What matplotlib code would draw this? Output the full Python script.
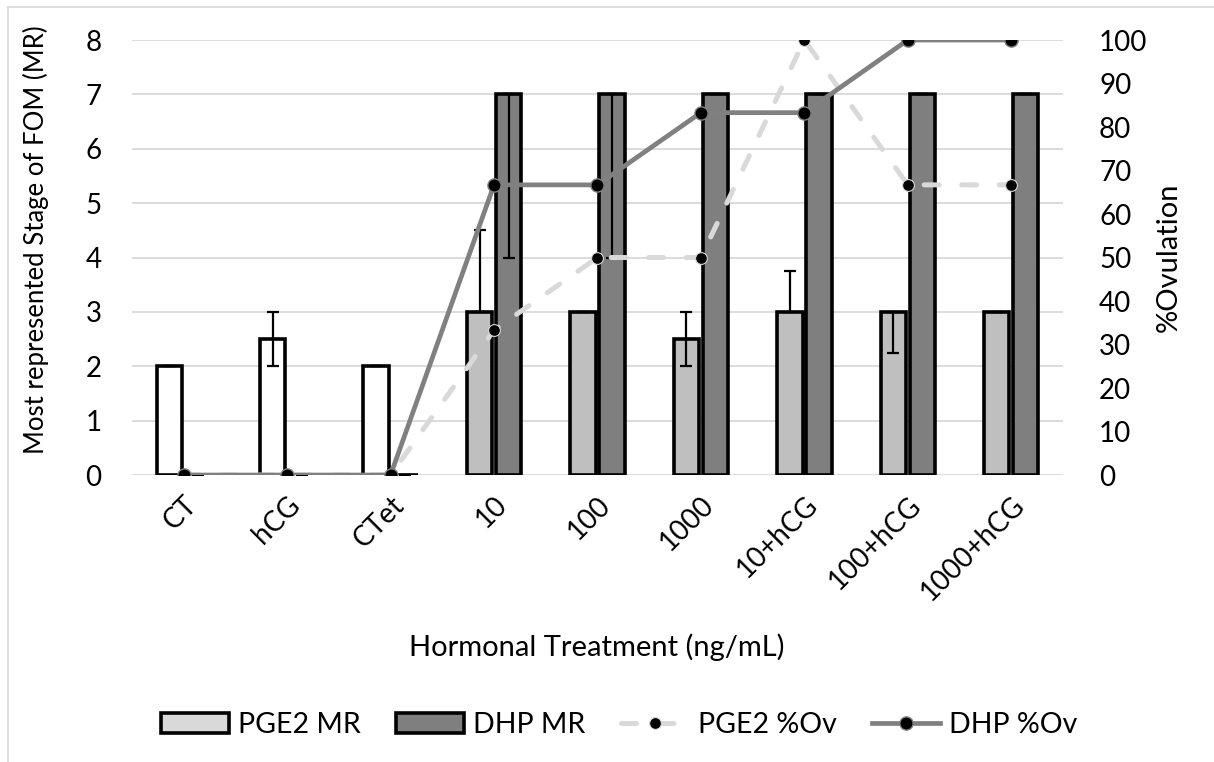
import matplotlib
matplotlib.use("Agg")
import matplotlib.pyplot as plt
import numpy as np
from matplotlib.lines import Line2D

plt.rcParams["font.family"] = ["Lato", "DejaVu Sans"]

categories = ["CT", "hCG", "CTet", "10", "100", "1000", "10+hCG", "100+hCG", "1000+hCG"]
pge2_mr = [2, 2.5, 2, 3, 3, 2.5, 3, 3, 3]
pge2_err_low = [0, 0.5, 0, 0, 0, 0.5, 0, 0.75, 0]
pge2_err_high = [0, 0.5, 0, 1.5, 0, 0.5, 0.75, 0, 0]
dhp_mr = [0, 0, 0, 7, 7, 7, 7, 7, 7]
dhp_err_low = [0, 0, 0, 3, 3, 0, 0, 0, 0]
dhp_err_high = [0, 0, 0, 0, 0, 0, 0, 0, 0]
pge2_ov = [0, 0, 0, 33.3, 50, 50, 100, 66.7, 66.7]
dhp_ov = [0, 0, 0, 66.7, 66.7, 83.3, 83.3, 100, 100]

x = np.arange(len(categories))
w = 0.245
off = 0.14
pge2_colors = ["white"] * 3 + ["#bfbfbf"] * 6
err_style = dict(ecolor="black", elinewidth=1.6, capsize=4.5, capthick=1.6)
pge2_line = dict(color="#d9d9d9", linewidth=3.6, linestyle=(0, (3, 4.5)), dash_capstyle="round",
                 marker="o", markersize=8.5, markerfacecolor="black", markeredgecolor="#d9d9d9",
                 markeredgewidth=0.8)
dhp_line = dict(color="#808080", linewidth=3.4, marker="o", markersize=9.5,
                markerfacecolor="black", markeredgecolor="#808080", markeredgewidth=1)

fig = plt.figure(figsize=(12.14, 7.62), dpi=100)
ax = fig.add_axes([0.1087, 0.3766, 0.7669, 0.5709])
ax2 = ax.twinx()

ax.set_axisbelow(True)
ax.yaxis.grid(True, color="#d9d9d9", linewidth=1.3)
ax.bar(x - off, pge2_mr, w, color=pge2_colors, edgecolor="black", linewidth=2.6,
       yerr=[pge2_err_low, pge2_err_high], error_kw=err_style)
ax.bar(x + off, dhp_mr, w, color="#7f7f7f", edgecolor="black", linewidth=2.6,
       yerr=[dhp_err_low, dhp_err_high], error_kw=err_style)

ax2.plot(x, pge2_ov, **pge2_line)
ax2.plot(x, dhp_ov, **dhp_line)

ax.set_xlim(-0.5, len(categories) - 0.5)
ax.set_ylim(0, 8)
ax2.set_ylim(0, 100)
ax.set_yticks(range(0, 9))
ax2.set_yticks(range(0, 101, 10))
ax.set_xticks(x)
ax.set_xticklabels(categories, rotation=45, ha="right", rotation_mode="anchor", fontsize=20)
for a in (ax, ax2):
    for s in a.spines.values():
        s.set_visible(False)
    a.tick_params(length=0, labelsize=20, colors="black")
ax.tick_params(axis="y", pad=22)
ax.tick_params(axis="x", pad=12)
ax2.tick_params(axis="y", pad=26)

ax.set_ylabel("Most represented Stage of FOM (MR)", fontsize=18.5)
ax.yaxis.set_label_coords(-0.089, 0.54)
ax2.set_ylabel("%Ovulation", fontsize=21)
ax2.yaxis.set_label_coords(1.1, 0.5)
fig.text(0.4918, 1 - 647 / 762, "Hormonal Treatment (ng/mL)", ha="center", va="center", fontsize=21)

handles = [
    plt.Rectangle((0, 0), 1, 1, facecolor="#d9d9d9", edgecolor="black", linewidth=2.6),
    plt.Rectangle((0, 0), 1, 1, facecolor="#7f7f7f", edgecolor="black", linewidth=2.6),
    Line2D([], [], **pge2_line),
    Line2D([], [], **dhp_line),
]
fig.legend(handles, ["PGE2 MR", "DHP MR", "PGE2 %Ov", "DHP %Ov"], loc="center",
           bbox_to_anchor=(0.51, 1 - 725 / 762), ncol=4, frameon=False, fontsize=20.5,
           handlelength=2.4, handletextpad=0.3, columnspacing=1.25)

# outer frame (top and left edges visible in the source)
fig.add_artist(Line2D([8 / 1214, 1], [1 - 7 / 762, 1 - 7 / 762], color="#d9d9d9", linewidth=1.2))
fig.add_artist(Line2D([8 / 1214, 8 / 1214], [0, 1 - 7 / 762], color="#d9d9d9", linewidth=1.2))

fig.savefig("out.png", dpi=100)
